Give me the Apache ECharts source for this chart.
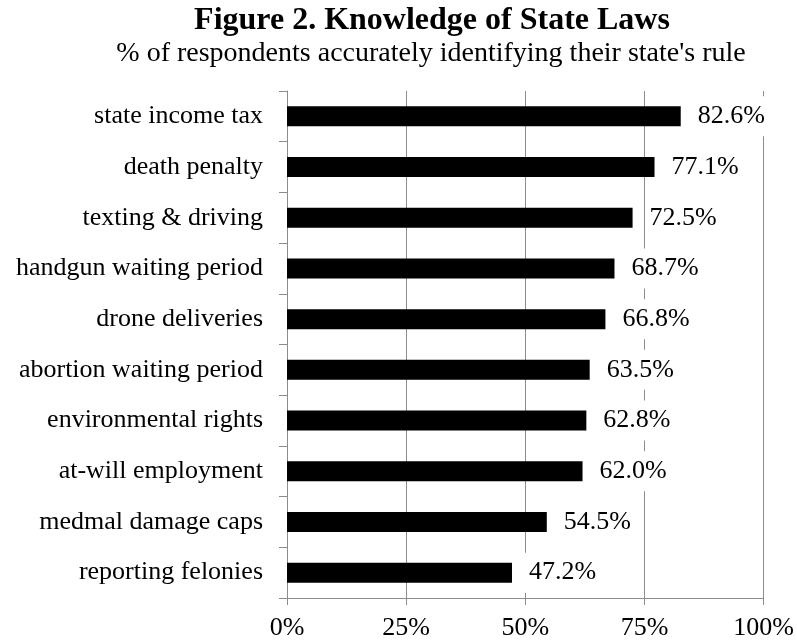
<!DOCTYPE html>
<html>
<head>
<meta charset="utf-8">
<title>Knowledge of State Laws</title>
<script src="https://cdn.jsdelivr.net/npm/echarts@6/dist/echarts.min.js"></script>
<style>
  html, body { margin: 0; padding: 0; background: #fff; }
  #chart { width: 797px; height: 642px; }
</style>
</head>
<body>
<div id="chart"></div>
<script>
// Survey items, top to bottom
const laws = [
  'state income tax',
  'death penalty',
  'texting & driving',
  'handgun waiting period',
  'drone deliveries',
  'abortion waiting period',
  'environmental rights',
  'at-will employment',
  'medmal damage caps',
  'reporting felonies'
];

// Share of respondents answering correctly (%)
const pctCorrect = [82.6, 77.1, 72.5, 68.7, 66.8, 63.5, 62.8, 62.0, 54.5, 47.2];

// Value-axis ticks (%)
const pctTicks = [0, 25, 50, 75, 100];

const titleText = 'Figure 2. Knowledge of State Laws';
const subtitleText = "% of respondents accurately identifying their state's rule";

const SERIF = '"Liberation Serif", "Times New Roman", serif';
const GREY = '#8c8c8c';

const chart = echarts.init(document.getElementById('chart'), null, { renderer: 'canvas' });

chart.setOption({
  animation: false,
  backgroundColor: '#fff',
  graphic: [
    {
      type: 'text', x: 432, y: 21,
      style: {
        text: titleText, fill: '#000',
        font: 'bold 32px ' + SERIF,
        align: 'center', verticalAlign: 'middle',
        textAlign: 'center', textVerticalAlign: 'middle'
      }
    },
    {
      type: 'text', x: 431, y: 54,
      style: {
        text: subtitleText, fill: '#000',
        font: '28px ' + SERIF,
        align: 'center', verticalAlign: 'middle',
        textAlign: 'center', textVerticalAlign: 'middle'
      }
    }
  ],
  grid: { left: 287, right: 33, top: 91, bottom: 44, containLabel: false },
  xAxis: {
    type: 'value',
    min: pctTicks[0],
    max: pctTicks[pctTicks.length - 1],
    interval: pctTicks[1] - pctTicks[0],
    axisLine: { show: true, lineStyle: { color: GREY, width: 1 } },
    axisTick: { show: true, length: 7, lineStyle: { color: GREY } },
    splitLine: { show: true, lineStyle: { color: GREY, width: 1 } },
    axisLabel: {
      margin: 17,
      color: '#000',
      fontFamily: SERIF,
      fontSize: 26,
      formatter: v => v + '%'
    }
  },
  yAxis: {
    type: 'category',
    data: laws,
    inverse: true,
    axisLine: { show: true, lineStyle: { color: GREY, width: 1 } },
    axisTick: { show: true, length: 8, alignWithLabel: false, lineStyle: { color: GREY } },
    splitLine: { show: false },
    axisLabel: {
      margin: 24,
      color: '#000',
      fontFamily: SERIF,
      fontSize: 26
    }
  },
  series: [{
    type: 'bar',
    data: pctCorrect,
    barWidth: 20,
    itemStyle: { color: '#000' },
    label: {
      show: true,
      position: 'right',
      distance: 13,
      color: '#000',
      fontFamily: SERIF,
      fontSize: 26,
      backgroundColor: '#fff',
      padding: [7, 4, 7, 4],
      formatter: p => p.value.toFixed(1) + '%'
    }
  }]
});
</script>
</body>
</html>
